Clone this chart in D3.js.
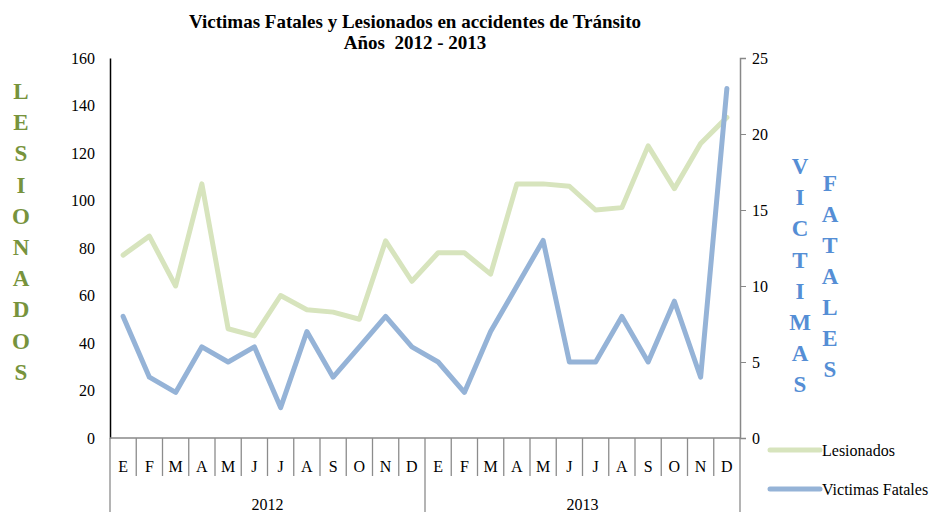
<!DOCTYPE html>
<html><head><meta charset="utf-8">
<script src="https://cdn.jsdelivr.net/npm/d3@7"></script>
<style>body{margin:0;background:#fff}svg{display:block}</style>
</head><body>
<svg id="c" width="933" height="512"></svg>
<script>
const months = ["E","F","M","A","M","J","J","A","S","O","N","D"];
const years = ["2012","2013"];
const lesionados = [77,85,64,107,46,43,60,54,53,50,83,66, 78,78,69,107,107,106,96,97,123,105,124,135];
const victimas = [8,4,3,6,5,6,2,7,4,6,8,6, 5,3,7,10,13,5,5,8,5,9,4,23];
const leftTicks = [0,20,40,60,80,100,120,140,160];
const rightTicks = [0,5,10,15,20,25];

const FONT = "'Liberation Serif'";
const svg = d3.select("#c");
const L = 110, R = 740, T = 58, B = 438;
const cats = d3.range(24);
const x = d3.scaleBand().domain(cats).range([L, R]);
const yL = d3.scaleLinear().domain([0,160]).range([B, T]);
const yR = d3.scaleLinear().domain([0,25]).range([B, T]);

// title
svg.append("text").attr("x",415).attr("y",28).attr("text-anchor","middle")
  .attr("font-weight","bold").attr("font-size",19).text("Victimas Fatales y Lesionados en accidentes de Tránsito");
svg.append("text").attr("x",415).attr("y",49).attr("text-anchor","middle")
  .attr("font-weight","bold").attr("font-size",19).style("white-space","pre").text("Años  2012 - 2013");

// left axis
const gl = svg.append("g").attr("transform",`translate(${L},0)`)
  .call(d3.axisLeft(yL).tickValues(leftTicks).tickSize(0).tickPadding(15));
gl.select(".domain").attr("stroke","#000").attr("stroke-width",1.5);
gl.selectAll("text").attr("font-size",16).attr("fill","#000");

// right axis
const gr = svg.append("g").attr("transform",`translate(${R},0)`)
  .call(d3.axisRight(yR).tickValues(rightTicks).tickSize(6).tickSizeOuter(6).tickPadding(6));
gr.select(".domain").attr("stroke","#888").attr("stroke-width",1.5);
gr.selectAll("line").attr("stroke","#888");
gr.selectAll("text").attr("font-size",16).attr("fill","#000");

// x axis line
svg.append("line").attr("x1",L).attr("x2",R).attr("y1",B).attr("y2",B).attr("stroke","#888").attr("stroke-width",1.5);
// month separators
const bounds = d3.range(25).map(i => i < 24 ? x(i) : x(23) + x.bandwidth());
svg.selectAll(".sep").data(bounds).join("line")
  .attr("x1",d=>d).attr("x2",d=>d).attr("y1",B)
  .attr("y2",(d,i)=> (i%12===0) ? 512 : 476)
  .attr("stroke","#8c8c8c").attr("stroke-width",1.3);
// month labels
svg.selectAll(".ml").data(cats).join("text")
  .attr("x",d=>x(d)+x.bandwidth()/2).attr("y",472).attr("text-anchor","middle")
  .attr("font-size",16).text(d=>months[d%12]);
// year labels
svg.selectAll(".yl").data(years).join("text")
  .attr("x",(d,i)=> (x(i*12) + x(i*12+11)+x.bandwidth())/2).attr("y",510).attr("text-anchor","middle")
  .attr("font-size",16).text(d=>d);

// lines
const greenC = "#d7e4bd", blueC = "#95b3d7";
svg.append("path").datum(lesionados).attr("fill","none").attr("stroke",greenC).attr("stroke-width",5)
  .attr("stroke-linejoin","round").attr("stroke-linecap","round")
  .attr("d", d3.line().x((d,i)=>x(i)+x.bandwidth()/2).y(d=>yL(d)));
svg.append("path").datum(victimas).attr("fill","none").attr("stroke",blueC).attr("stroke-width",5)
  .attr("stroke-linejoin","round").attr("stroke-linecap","round")
  .attr("d", d3.line().x((d,i)=>x(i)+x.bandwidth()/2).y(d=>yR(d)));

// vertical stacked labels
function stacked(str, cx, y0, step, color){
  svg.selectAll(null).data(str.split("")).join("text")
    .attr("x",cx).attr("y",(d,i)=>y0+i*step).attr("text-anchor","middle")
    .attr("font-weight","bold").attr("font-size",23).attr("fill",color).text(d=>d);
}
stacked("LESIONADOS", 21, 99, 31.2, "#77933c");
stacked("VICTIMAS", 800, 174, 31.2, "#558ed5");
stacked("FATALES", 830, 191, 31, "#558ed5");

// legend
const leg = [{n:"Lesionados",c:greenC,y:450},{n:"Victimas Fatales",c:blueC,y:489}];
leg.forEach(l=>{
  svg.append("line").attr("x1",770).attr("x2",820).attr("y1",l.y).attr("y2",l.y)
    .attr("stroke",l.c).attr("stroke-width",5).attr("stroke-linecap","round");
  svg.append("text").attr("x",822).attr("y",l.y+6).attr("font-size",16).text(l.n);
});

// apply serif font to every text
svg.selectAll("text").style("font-family", FONT);
</script>
</body></html>
